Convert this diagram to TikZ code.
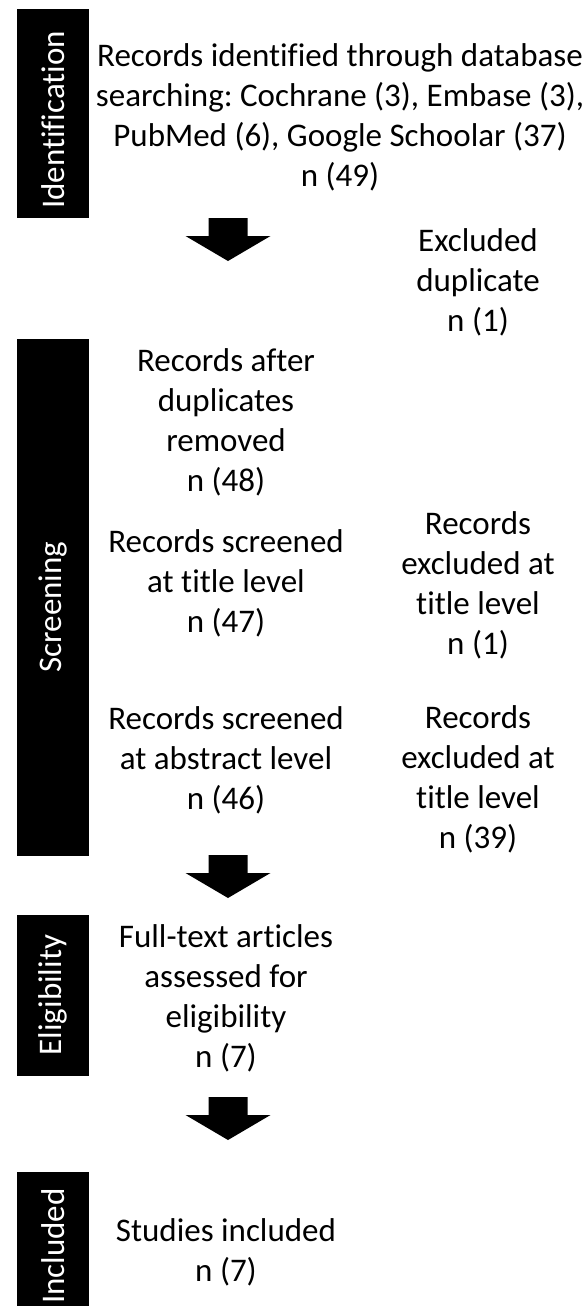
\documentclass[tikz,border=0pt]{standalone}
\usepackage{fontspec}
\setmainfont[Ligatures={NoCommon}]{Carlito}
\begin{document}
\frenchspacing
\begin{tikzpicture}[x=1pt,y=-1pt,
  every node/.style={inner sep=0pt,outer sep=0pt},
  txt/.style={align=center,font=\fontsize{33}{40}\selectfont},
  phase/.style={fill=black,draw=none},
  phaselabel/.style={rotate=90,text=white,font=\fontsize{33}{38}\selectfont},
  pics/blockarrow/.style={code={
    \fill[black] (-19.5,0) -- (19.5,0) -- (19.5,18) -- (42.5,18) -- (0,43) -- (-42.5,18) -- (-19.5,18) -- cycle;}}]
\useasboundingbox (0,0) rectangle (587,1306);
% phase bars
\fill[phase] (17,9) rectangle (89,218);
\fill[phase] (17,339) rectangle (89,856);
\fill[phase] (17,915) rectangle (89,1076);
\fill[phase] (17,1172) rectangle (89,1306);
\node[phaselabel] (lid) at (53,120) {Identification};
\node[phaselabel] (lsc) at (53,607) {Screening};
\node[phaselabel] (lel) at (53,995) {Eligibility};
\node[phaselabel] (lin) at (53,1246) {Included};
% texts
\node[txt] (ident) at (340,117) {Records identified through database\\searching: Cochrane (3), Embase (3),\\PubMed (6), Google Schoolar (37)\\n (49)};
\node[txt] (dup) at (478,282) {Excluded\\duplicate\\n (1)};
\node[txt] (after) at (226,422) {Records after\\duplicates\\removed\\n (48)};
\node[txt] (title) at (226,583) {Records screened\\at title level\\n (47)};
\node[txt] (extitle) at (478,585) {Records\\excluded at\\title level\\n (1)};
\node[txt] (abs) at (226,760) {Records screened\\at abstract level\\n (46)};
\node[txt] (exabs) at (478,779) {Records\\excluded at\\title level\\n (39)};
\node[txt] (full) at (226,998) {Full-text articles\\assessed for\\eligibility\\n (7)};
\node[txt] (incl) at (226,1252) {Studies included\\n (7)};
% block arrows
\coordinate (a1) at (228,218);
\coordinate (a2) at (228,855);
\coordinate (a3) at (228,1097);
\pic at (a1) {blockarrow};
\pic at (a2) {blockarrow};
\pic at (a3) {blockarrow};
\end{tikzpicture}
\end{document}
